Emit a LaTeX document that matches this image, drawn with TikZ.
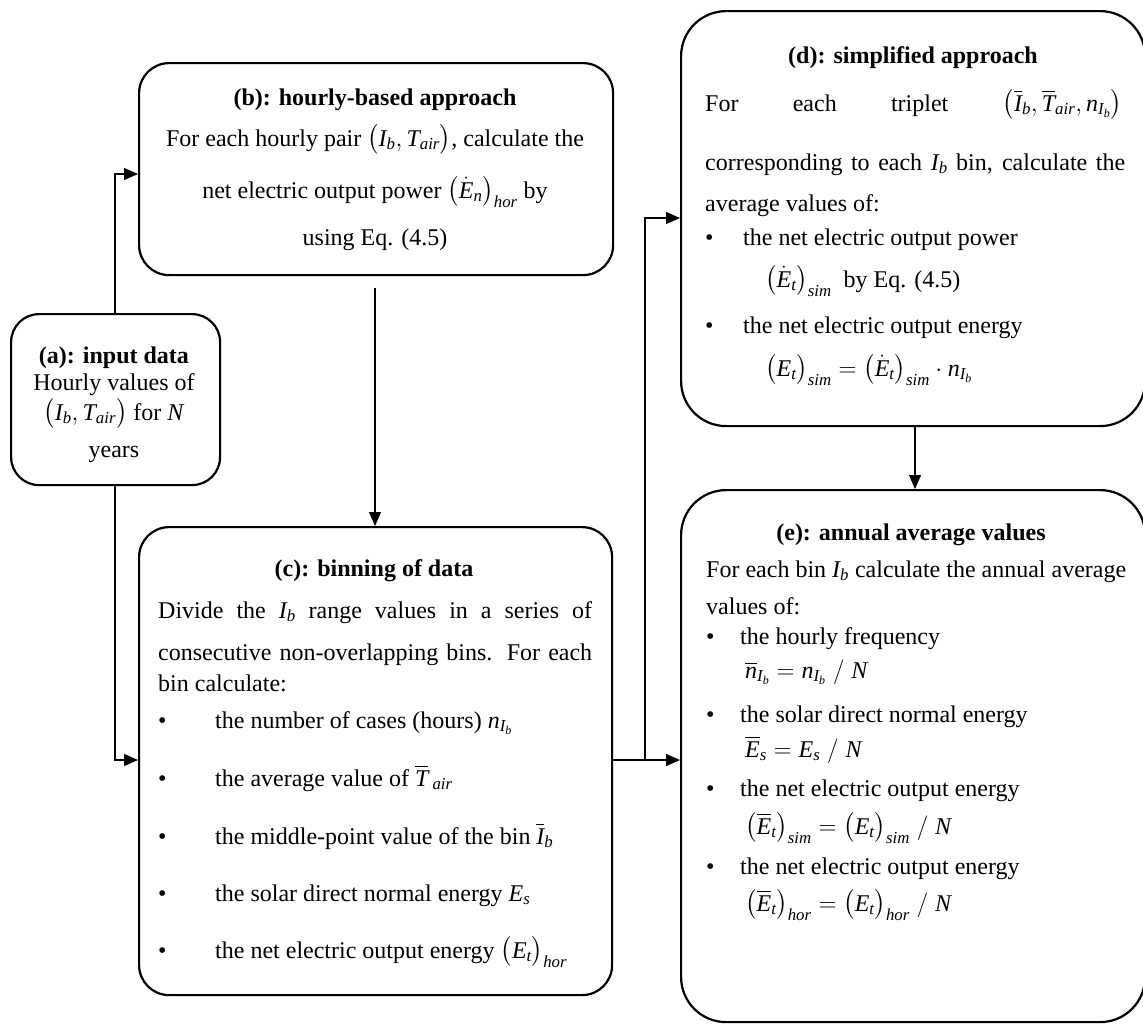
\documentclass[tikz,border=0pt]{standalone}
\usepackage{amsmath}
\usepackage{fontspec}
\setmainfont{Liberation Serif}
\usetikzlibrary{arrows.meta}
\newcommand{\vv}[1]{\text{\itshape #1}}
\begin{document}
\begin{tikzpicture}[x=1pt,y=-1pt,
  box/.style={draw, line width=2.2pt, rounded corners=#1, inner sep=0pt, anchor=north west},
  txt/.style={inner sep=0pt, font=\fontsize{24}{28}\selectfont},
  ttl/.style={inner sep=0pt, font=\fontsize{24}{28}\selectfont\bfseries, anchor=base},
  lft/.style={txt, anchor=base west},
  ctr/.style={txt, anchor=base},
  conn/.style={line width=1.1pt, -{Triangle[length=14pt,width=12pt]}},
  plain/.style={line width=1.1pt}]
\useasboundingbox (0,0) rectangle (1143,1023);
% boxes
\node[box=28pt, minimum width=209pt, minimum height=171pt] (a) at (10,313) {};
\node[box=30pt, minimum width=474pt, minimum height=212pt] (b) at (138,62) {};
\node[box=30pt, minimum width=473pt, minimum height=468pt] (c) at (138,526) {};
\node[box=45pt, minimum width=464pt, minimum height=415pt] (d) at (680,10) {};
\node[box=45pt, minimum width=464pt, minimum height=532pt] (e) at (680,489) {};
% (a)
\node[ttl] (at) at (114,363) {(a): input data};
\node[ctr] (a1) at (114,390) {Hourly values of};
\node[ctr] (a2) at (114,420) {$\bigl(\vv{I}_{\vv{b}},\vv{T}_{\vv{air}}\bigr)$ for \textit{N}};
\node[ctr] (a3) at (114,457) {years};
% (b)
\node[ttl] (bt) at (375,105) {(b): hourly-based approach};
\node[ctr] (b1) at (375,146) {For each hourly pair $\bigl(\vv{I}_{\vv{b}},\vv{T}_{\vv{air}}\bigr)$, calculate the};
\node[ctr] (b2) at (375,198) {net electric output power $\bigl(\dot{\vv{E}}_{\vv{n}}\bigr)_{\vv{hor}}$ by};
\node[ctr] (b3) at (375,245) {using Eq. (4.5)};
% (c)
\node[ttl] (ct) at (374,576) {(c): binning of data};
\node[lft] (c1) at (158,618) {\makebox[434pt][s]{Divide the $\vv{I}_{\vv{b}}$ range values in a series of}};
\node[lft] (c2) at (158,660) {\makebox[434pt][s]{consecutive non-overlapping bins. For each}};
\node[lft] (c3) at (158,691) {bin calculate:};
\node[lft] (cb1) at (158,728) {\textbullet};
\node[lft] (c4) at (215,728) {the number of cases (hours) $\vv{n}_{\vv{I}_{\vv{b}}}$};
\node[lft] (cb2) at (158,786) {\textbullet};
\node[lft] (c5) at (215,786) {the average value of $\overline{\vv{T}}\,_{\vv{air}}$};
\node[lft] (cb3) at (158,844) {\textbullet};
\node[lft] (c6) at (215,844) {the middle-point value of the bin $\overline{\vv{I}}_{\vv{b}}$};
\node[lft] (cb4) at (158,901) {\textbullet};
\node[lft] (c7) at (215,901) {the solar direct normal energy $\vv{E}_{\vv{s}}$};
\node[lft] (cb5) at (158,958) {\textbullet};
\node[lft] (c8) at (215,958) {the net electric output energy $\bigl(\vv{E}_{\vv{t}}\bigr)_{\vv{hor}}$};
% (d)
\node[ttl] (dt) at (913,63) {(d): simplified approach};
\node[lft] (d1) at (705,111) {\makebox[417pt][s]{For each triplet $\bigl(\overline{\vv{I}}_{\vv{b}},\overline{\vv{T}}_{\vv{air}},\vv{n}_{\vv{I}_{\vv{b}}}\bigr)$}};
\node[lft] (d2) at (705,170) {\makebox[420pt][s]{corresponding to each $\vv{I}_{\vv{b}}$ bin, calculate the}};
\node[lft] (d3) at (705,211) {average values of:};
\node[lft] (db1) at (705,245) {\textbullet};
\node[lft] (d4) at (743,245) {the net electric output power};
\node[lft] (d5) at (765,287) {$\bigl(\dot{\vv{E}}_{\vv{t}}\bigr)_{\vv{sim}}$\ \ by Eq. (4.5)};
\node[lft] (db2) at (705,333) {\textbullet};
\node[lft] (d6) at (743,333) {the net electric output energy};
\node[lft] (d7) at (765,376) {$\bigl(\vv{E}_{\vv{t}}\bigr)_{\vv{sim}}=\bigl(\dot{\vv{E}}_{\vv{t}}\bigr)_{\vv{sim}}\cdot\vv{n}_{\vv{I}_{\vv{b}}}$};
% (e)
\node[ttl] (et) at (911,540) {(e): annual average values};
\node[lft] (e1) at (706,577) {For each bin $\vv{I}_{\vv{b}}$ calculate the annual average};
\node[lft] (e2) at (706,614) {values of:};
\node[lft] (eb1) at (706,644) {\textbullet};
\node[lft] (e3) at (740,644) {the hourly frequency};
\node[lft] (e4) at (745,678) {$\overline{\vv{n}}_{\vv{I}_{\vv{b}}}=\vv{n}_{\vv{I}_{\vv{b}}}\;/\;\vv{N}$};
\node[lft] (eb2) at (706,722) {\textbullet};
\node[lft] (e5) at (740,722) {the solar direct normal energy};
\node[lft] (e6) at (745,757) {$\overline{\vv{E}}_{\vv{s}}=\vv{E}_{\vv{s}}\;/\;\vv{N}$};
\node[lft] (eb3) at (706,796) {\textbullet};
\node[lft] (e7) at (740,796) {the net electric output energy};
\node[lft] (e8) at (745,834) {$\bigl(\overline{\vv{E}}_{\vv{t}}\bigr)_{\vv{sim}}=\bigl(\vv{E}_{\vv{t}}\bigr)_{\vv{sim}}\;/\;\vv{N}$};
\node[lft] (eb4) at (706,874) {\textbullet};
\node[lft] (e9) at (740,874) {the net electric output energy};
\node[lft] (e10) at (745,911) {$\bigl(\overline{\vv{E}}_{\vv{t}}\bigr)_{\vv{hor}}=\bigl(\vv{E}_{\vv{t}}\bigr)_{\vv{hor}}\;/\;\vv{N}$};
% connectors
\coordinate (ab) at (115,174);
\coordinate (ac) at (115,760);
\coordinate (bs) at (375,288);
\coordinate (cj) at (611,760);
\coordinate (cu) at (645,760);
\coordinate (du) at (645,218);
\coordinate (dx) at (915,0);
\draw[conn] (a.north -| ab) |- (b.west |- ab);
\draw[conn] (a.south -| ac) |- (c.west |- ac);
\draw[conn] (bs) -- (c.north -| bs);
\draw[conn] (c.east |- cj) -- (e.west |- cj);
\draw[conn] (cu) -- (du) -- (d.west |- du);
\draw[conn] (d.south -| dx) -- (e.north -| dx);
\end{tikzpicture}
\end{document}
